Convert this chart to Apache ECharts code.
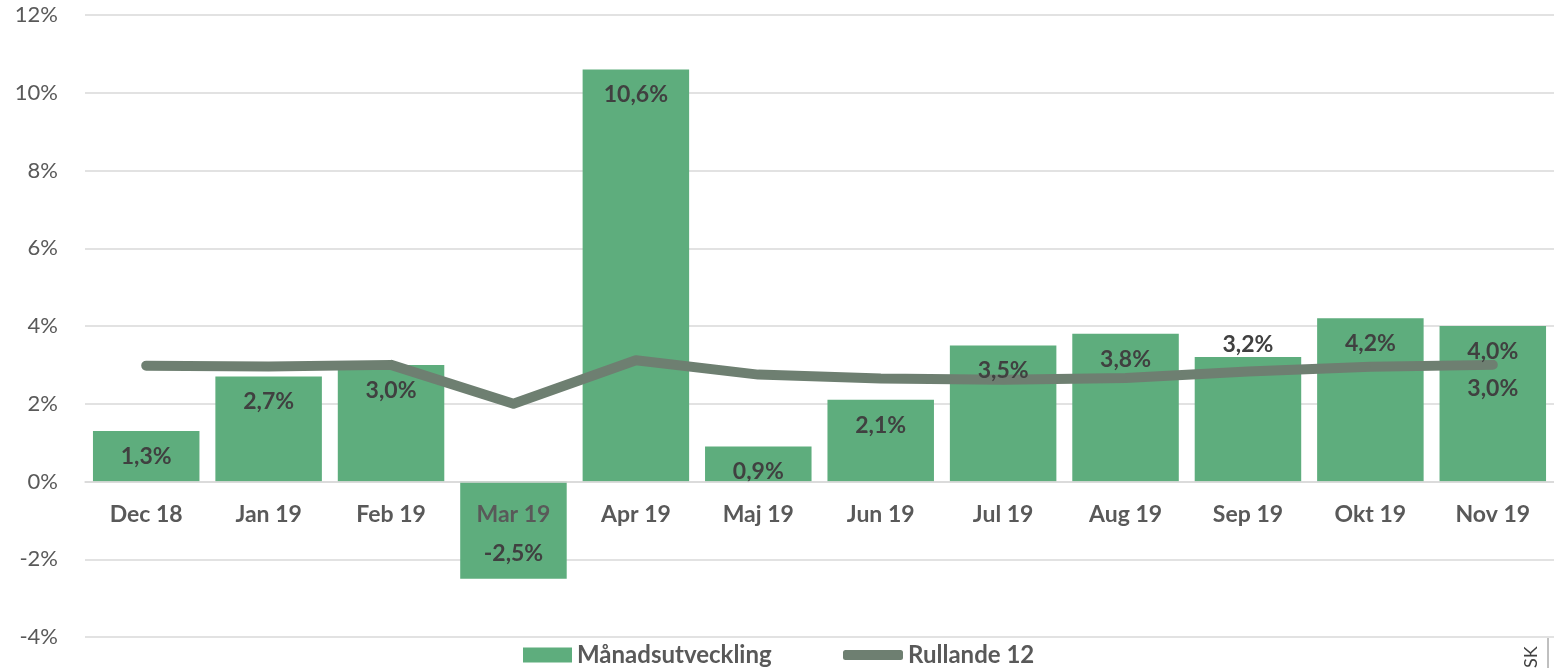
<!DOCTYPE html>
<html>
<head>
<meta charset="utf-8">
<script src="https://cdn.jsdelivr.net/npm/echarts@6/dist/echarts.min.js"></script>
<style>
  html, body { margin: 0; padding: 0; background: #fff; }
  #chart { width: 1554px; height: 668px; }
</style>
</head>
<body>
<div id="chart"></div>
<script>
const months = ["Dec 18", "Jan 19", "Feb 19", "Mar 19", "Apr 19", "Maj 19", "Jun 19", "Jul 19", "Aug 19", "Sep 19", "Okt 19", "Nov 19"];
const monthly = [1.3, 2.7, 3.0, -2.5, 10.6, 0.9, 2.1, 3.5, 3.8, 3.2, 4.2, 4.0];
// rullande 12 mån
const rolling = [2.98, 2.96, 3.0, 2.0, 3.12, 2.75, 2.65, 2.62, 2.66, 2.83, 2.95, 3.0];

const font = "Lato";
const pct = v => v.toFixed(1).replace(".", ",") + "%";

const chart = echarts.init(document.getElementById("chart"));

// etiketter: innanför stapeln, utom Sep 19 som hamnar ovanför
const barLabels = monthly.map((v, i) => {
  let label = { position: "insideTop", distance: 14 };
  if (v < 0) label = { position: "insideBottom", distance: 14 };
  if (months[i] === "Sep 19") label = { position: "top", distance: 1 };
  return { value: v, label };
});

// bara sista punkten får etikett
const lineData = rolling.map((v, i) => ({
  value: v,
  label: { show: i === rolling.length - 1 }
}));

// x-axeln ska ligga på 0-linjen: grid 15..637, skala -4..12
const gridTop = 15, gridBottom = 31;
const zeroOffset = -(668 - gridTop - gridBottom) * 4 / 16;

const labelStyle = {
  color: "#404040",
  fontSize: 23,
  fontWeight: "bold",
  fontFamily: font,
  formatter: p => pct(p.value)
};

chart.setOption({
  animation: false,
  textStyle: { fontFamily: font },
  grid: { left: 85, right: 0, top: gridTop, bottom: gridBottom, outerBoundsMode: "none", containLabel: false },
  legend: [
    {
      data: [{ name: "Månadsutveckling", icon: "rect" }],
      left: 518, top: 638,
      itemWidth: 49, itemHeight: 15,
      textStyle: { color: "#595959", fontSize: 24, fontWeight: "bold", fontFamily: font }
    },
    {
      data: [{ name: "Rullande 12", icon: "roundRect" }],
      left: 838, top: 638,
      itemWidth: 60, itemHeight: 10,
      textStyle: { color: "#595959", fontSize: 24, fontWeight: "bold", fontFamily: font }
    }
  ],
  xAxis: {
    type: "category",
    data: months,
    z: 5,
    position: "bottom",
    offset: zeroOffset,
    axisLine: { onZero: false, lineStyle: { color: "#d9d9d9", width: 1.5 } },
    axisTick: { show: false },
    axisLabel: { color: "#595959", fontSize: 23, fontWeight: "bold", margin: 22, fontFamily: font }
  },
  yAxis: {
    type: "value",
    min: -4, max: 12, interval: 2,
    axisLine: { show: false, onZero: false },
    axisTick: { show: false },
    splitLine: { lineStyle: { color: "#d9d9d9", width: 1.5 } },
    axisLabel: { color: "#595959", fontSize: 22, margin: 27, formatter: "{value}%", fontFamily: font }
  },
  series: [
    {
      name: "Månadsutveckling",
      type: "bar",
      data: monthly,
      barCategoryGap: "13%",
      barGap: "-100%",
      itemStyle: { color: "#5EAD7D" },
      z: 1
    },
    {
      name: "Rullande 12",
      type: "line",
      data: lineData,
      symbol: "circle",
      symbolSize: 1,
      showSymbol: true,
      lineStyle: { color: "#6E7F71", width: 10, cap: "round", join: "round" },
      itemStyle: { color: "#6E7F71" },
      label: Object.assign({ show: false, position: "bottom", distance: 12 }, labelStyle),
      z: 2
    },
    {
      // osynliga staplar som bara bär etiketterna, så de hamnar över linjen
      name: "etiketter",
      type: "bar",
      data: barLabels,
      barCategoryGap: "13%",
      barGap: "-100%",
      itemStyle: { color: "rgba(0,0,0,0)" },
      label: Object.assign({ show: true }, labelStyle),
      silent: true,
      z: 4
    }
  ],
  graphic: [
    {
      type: "text",
      x: 1522, y: 668,
      rotation: Math.PI / 2,
      style: { text: "SK", fill: "#404040", font: "18px " + font }
    },
    {
      type: "line",
      shape: { x1: 1548, y1: 638, x2: 1548, y2: 668 },
      style: { stroke: "#808080", lineWidth: 1 }
    }
  ]
});
</script>
</body>
</html>
